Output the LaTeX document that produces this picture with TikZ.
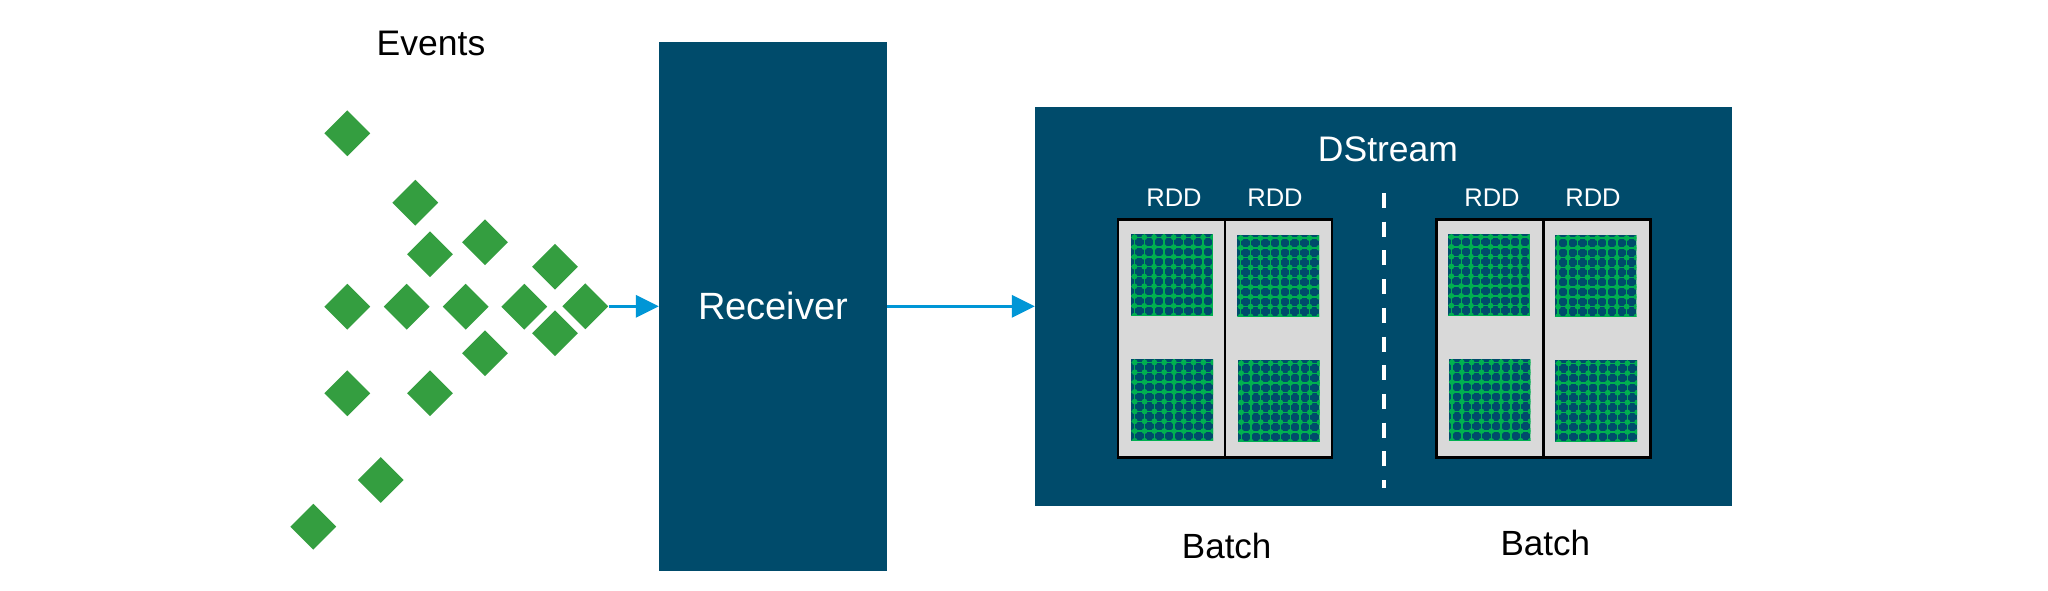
\documentclass[tikz,border=0pt]{standalone}
\usepackage{fontspec}
\setmainfont{Liberation Sans}
\usetikzlibrary{shapes.geometric,arrows.meta}
\definecolor{dsblue}{HTML}{004B6B}
\definecolor{evgreen}{HTML}{349E40}
\definecolor{patgreen}{HTML}{00B050}
\definecolor{cellgray}{HTML}{D9D9D9}
\definecolor{arrblue}{HTML}{0096D6}
\tikzset{
  ev/.style={diamond, fill=evgreen, minimum width=46pt, minimum height=46pt, inner sep=0pt, aspect=1},
  bigbox/.style={fill=dsblue, inner sep=0pt, text=white},
  cell/.style={fill=cellgray, draw=black, line width=2.7pt, minimum width=107pt, minimum height=238pt, inner sep=0pt},
  patsq/.style={fill=dsblue, minimum width=81.5pt, minimum height=81.5pt, inner sep=0pt},
  patline/.style={draw=patgreen, line width=1.3pt},
  flow/.style={draw=arrblue, line width=3.3pt, -{Triangle[length=23pt,width=22pt]}},
  rddlbl/.style={text=white, font=\fontsize{25.5}{30}\selectfont, anchor=base, inner sep=0pt},
  biglbl/.style={font=\fontsize{35.5}{42}\selectfont, anchor=base, inner sep=0pt},
}
\newcommand{\rddpat}[1]{%
  \begin{scope}
    \clip (#1.north west) rectangle (#1.south east);
    \foreach \k in {0,...,8}{
      \draw[patline] ([shift={(3.5+9.8*\k,0)}]#1.north west) -- ++(0,82);
      \draw[patline] ([shift={(0,3.5+9.8*\k)}]#1.north west) -- ++(82,0);
    }
    \foreach \i in {0,...,8}{\foreach \j in {0,...,8}{
      \fill[patgreen] ([shift={(3.5+9.8*\i,3.5+9.8*\j)}]#1.north west) circle[radius=2.9pt];
    }}
  \end{scope}}
\begin{document}
\begin{tikzpicture}[x=1pt,y=-1pt]
\useasboundingbox (0,0) rectangle (2048,590);
\fill[white] (0,0) rectangle (2048,590);

% Events
\node[biglbl] (evlbl) at (431,55) {Events};
\node[ev] (e1) at (347.3,133.3) {};
\node[ev] (e2) at (415.3,202.7) {};
\node[ev] (e3) at (430,254.3) {};
\node[ev] (e4) at (485,242.3) {};
\node[ev] (e5) at (555,266.7) {};
\node[ev] (e6) at (347.3,306.7) {};
\node[ev] (e7) at (406.7,306.7) {};
\node[ev] (e8) at (465.7,306.7) {};
\node[ev] (e9) at (524.3,306.7) {};
\node[ev] (e11) at (555,333.3) {};
\node[ev] (e10) at (585.3,306.3) {};
\node[ev] (e12) at (485,353.3) {};
\node[ev] (e13) at (347.3,393.3) {};
\node[ev] (e14) at (430,393.3) {};
\node[ev] (e15) at (380.7,480) {};
\node[ev] (e16) at (313.3,526.7) {};

% Receiver
\node[bigbox, minimum width=228pt, minimum height=529.5pt, font=\fontsize{38}{45}\selectfont] (rec) at (773,306.3) {Receiver};

% DStream
\node[bigbox, minimum width=697.3pt, minimum height=399.3pt] (ds) at (1383.7,306.3) {};
\node[biglbl, text=white] (dslbl) at (1388,161) {DStream};

% batch 1
\node[cell] (c1a) at (1171.5,338.2) {};
\node[cell] (c1b) at (1278.5,338.2) {};
% batch 2
\node[cell] (c2a) at (1490,338.2) {};
\node[cell] (c2b) at (1597,338.2) {};

\node[patsq] (p1a1) at (1171.9,274.7) {};
\node[patsq] (p1a2) at (1172.2,399.9) {};
\node[patsq] (p1b1) at (1278.2,275.5) {};
\node[patsq] (p1b2) at (1278.6,400.8) {};
\node[patsq] (p2a1) at (1488.8,274.5) {};
\node[patsq] (p2a2) at (1489.5,399.9) {};
\node[patsq] (p2b1) at (1595.5,275.5) {};
\node[patsq] (p2b2) at (1596.2,400.8) {};
\foreach \p in {p1a1,p1a2,p1b1,p1b2,p2a1,p2a2,p2b1,p2b2}{\rddpat{\p}}

\node[rddlbl] (r1) at (1174,206) {RDD};
\node[rddlbl] (r2) at (1275,206) {RDD};
\node[rddlbl] (r3) at (1492,206) {RDD};
\node[rddlbl] (r4) at (1593,206) {RDD};

\draw[white, line width=4pt, dash pattern=on 15pt off 13.7pt] (1384,193) -- (1384,488);

\node[biglbl, font=\fontsize{35}{42}\selectfont] (b1) at (1226.7,558.3) {Batch};
\node[biglbl, font=\fontsize{35}{42}\selectfont] (b2) at (1545.3,555) {Batch};

% connectors
\draw[flow] (e10.east) -- (rec.west);
\draw[flow] (rec.east) -- (ds.west);
\end{tikzpicture}
\end{document}
